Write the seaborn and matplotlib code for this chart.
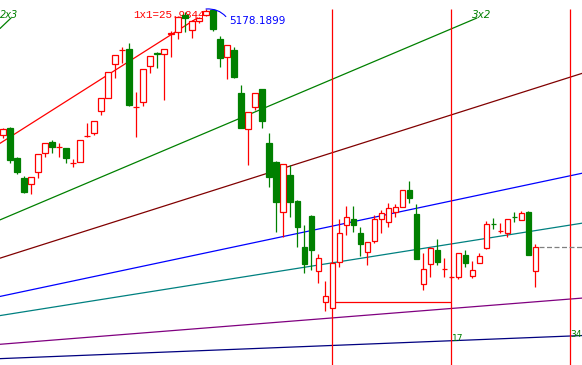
import numpy as np
import pandas as pd
import matplotlib
matplotlib.use("Agg")
import matplotlib.pyplot as plt
import seaborn as sns

# daily candles (index price)
opens = [4422, 4464, 4284, 4164, 4128, 4200, 4314, 4380, 4349, 4344,
         4253, 4260, 4415, 4434, 4566, 4644, 4848, 4931, 4938, 4589,
         4620, 4836, 4915, 4908, 5028, 5040, 5142, 5052, 5106, 5142,
         5174, 4998, 4890, 4932, 4674, 4458, 4590, 4698, 4374, 4260,
         3962, 4182, 4026, 3750, 3936, 3606, 3420, 3384, 3660, 3882,
         3918, 3834, 3720, 3786, 3918, 3900, 3960, 3990, 4092, 3948,
         3528, 3648, 3732, 3617, 3569, 3570, 3702, 3576, 3654, 3744,
         3889, 3845, 3834, 3931, 3912, 3960, 3606]
highs = [4464, 4470, 4290, 4176, 4170, 4308, 4374, 4392, 4374, 4344,
         4278, 4392, 4494, 4506, 4644, 4800, 4902, 4950, 4974, 4680,
         4818, 4896, 4920, 4938, 5046, 5136, 5160, 5112, 5130, 5178,
         5177, 5016, 4962, 4950, 4722, 4560, 4674, 4698, 4434, 4266,
         4248, 4242, 4032, 3882, 3940, 3708, 3546, 3660, 3918, 3996,
         3996, 3870, 3780, 3942, 3972, 4014, 4008, 4092, 4146, 4008,
         3714, 3750, 3798, 3684, 3576, 3714, 3732, 3666, 3714, 3906,
         3924, 3894, 3918, 3960, 3966, 3966, 3768]
lows = [4404, 4254, 4188, 4074, 4068, 4164, 4290, 4314, 4290, 4254,
        4230, 4260, 4410, 4422, 4542, 4644, 4764, 4854, 4596, 4410,
        4596, 4794, 4824, 4632, 4890, 4998, 5040, 5004, 5094, 5136,
        5046, 4830, 4758, 4764, 4464, 4242, 4572, 4464, 4110, 3840,
        3810, 3930, 3750, 3594, 3612, 3534, 3366, 3384, 3630, 3822,
        3840, 3696, 3642, 3774, 3834, 3870, 3930, 3990, 4014, 3678,
        3492, 3570, 3642, 3570, 3564, 3558, 3630, 3564, 3654, 3738,
        3858, 3834, 3810, 3900, 3912, 3702, 3510]
closes = [4458, 4272, 4200, 4080, 4170, 4308, 4374, 4350, 4351, 4284,
          4255, 4392, 4417, 4506, 4644, 4800, 4902, 4933, 4602, 4591,
          4818, 4896, 4911, 4938, 5034, 5130, 5124, 5106, 5124, 5166,
          5058, 4884, 4962, 4770, 4464, 4560, 4674, 4506, 4170, 4020,
          4248, 4020, 3870, 3648, 3732, 3684, 3456, 3654, 3834, 3930,
          3882, 3768, 3780, 3918, 3954, 3984, 3990, 4092, 4044, 3678,
          3618, 3744, 3660, 3619, 3571, 3714, 3654, 3612, 3696, 3888,
          3887, 3847, 3918, 3929, 3954, 3702, 3750]

# Gann fan (origin bar / price and price step per bar of the 1x1 line)
fan_origin_bar = -52.1
fan_origin_price = 2994
fan_step = 26.67
fan_names = ["2x3", "1x1", "3x2", "1x2", "1x3", "1x4", "1x8", "1x16"]
fan_ratios = [1.5, 1.0, 2 / 3, 1 / 2, 1 / 3, 1 / 4, 1 / 8, 1 / 16]
fan_colors = ["#008000", "#FF0000", "#008000", "#800000", "#0000FF",
              "#008080", "#800080", "#000080"]

# time cycle lines (17 bars apart) and markers
cycle_bars = [47, 64, 81]
cycle_labels = ["17", "34"]
peak_price = 5178.1899
peak_bar = 29
box_price = 3423
last_close = closes[-1]

df = pd.DataFrame({"open": opens, "high": highs, "low": lows, "close": closes})
df["bar"] = np.arange(len(df))
df["up"] = df["close"] >= df["open"]

sns.set_style("white")
plt.rcParams["font.family"] = ["DejaVu Sans"]

fig = plt.figure(figsize=(5.82, 3.65), dpi=100)
ax = fig.add_axes([0, 0, 1, 1])
x_min, x_max = -0.43, 82.71
y_min, y_max = 3042, 5232
ax.set_xlim(x_min, x_max)
ax.set_ylim(y_min, y_max)
ax.axis("off")

# fan lines; the steep ones stop near the top where their labels sit
cap_price = 5124
for name, r, c in zip(fan_names, fan_ratios, fan_colors):
    slope = fan_step * r
    x0 = x_min
    x1 = x_max
    if r >= 2 / 3:
        x1 = fan_origin_bar + (cap_price - fan_origin_price) / slope
    xs = np.array([x0, x1])
    ys = fan_origin_price + slope * (xs - fan_origin_bar)
    sns.lineplot(x=xs, y=ys, color=c, lw=0.9, ax=ax, zorder=1)
    if name == "1x1":
        ax.text(x1 + 1.0, 5142, "1x1=25.9844", color=c, ha="right", va="center",
                fontsize=7.8, family="Liberation Mono", zorder=1)
    elif name == "2x3":
        ax.text(x_min + 0.05, 5142, name, color=c, ha="left", va="center",
                fontsize=7, style="italic", zorder=1)
    elif name == "3x2":
        ax.text(x1 - 0.7, 5142, name, color=c, ha="left", va="center",
                fontsize=7.5, style="italic", zorder=1)

# cycle verticals from the peak level down
ax.vlines(cycle_bars, y_min, peak_price, colors="#FF0000", lw=0.9, zorder=1)
for b, lab in zip(cycle_bars[1:], cycle_labels):
    navy = fan_origin_price + fan_step / 16 * (b - fan_origin_bar)
    ax.text(b + 0.1, navy + 12, lab, color="#008000", ha="left", va="center",
            fontsize=6.6, zorder=4)

ax.hlines(box_price, cycle_bars[0], cycle_bars[1], colors="#FF0000", lw=0.9, zorder=1)
ax.hlines(last_close, len(df) - 0.5, x_max, colors="#808080", lw=0.9,
          linestyles=(0, (4, 2)), zorder=1)

# candles: red hollow up, green filled down
up = df[df["up"]]
dn = df[~df["up"]]
ax.vlines(up["bar"], up["low"], up["high"], colors="#FF0000", lw=0.9, zorder=2)
ax.vlines(dn["bar"], dn["low"], dn["high"], colors="#008000", lw=0.9, zorder=2)
ax.bar(up["bar"], up["close"] - up["open"], bottom=up["open"], width=0.72,
       facecolor="white", edgecolor="#FF0000", linewidth=0.9, zorder=3)
ax.bar(dn["bar"], dn["open"] - dn["close"], bottom=dn["close"], width=0.72,
       facecolor="#008000", edgecolor="#008000", linewidth=0.9, zorder=3)

# peak annotation
ax.annotate(f"{peak_price:.4f}", xy=(peak_bar, peak_price), xytext=(32.3, 5106),
            ha="left", va="center", color="#0000FF", fontsize=7.5, zorder=4,
            arrowprops=dict(arrowstyle="-", color="#0000FF", lw=0.8,
                            connectionstyle="arc3,rad=0.3", relpos=(0, 0.5),
                            shrinkA=0, shrinkB=0))

fig.savefig("out.png", dpi=100, facecolor="white")
